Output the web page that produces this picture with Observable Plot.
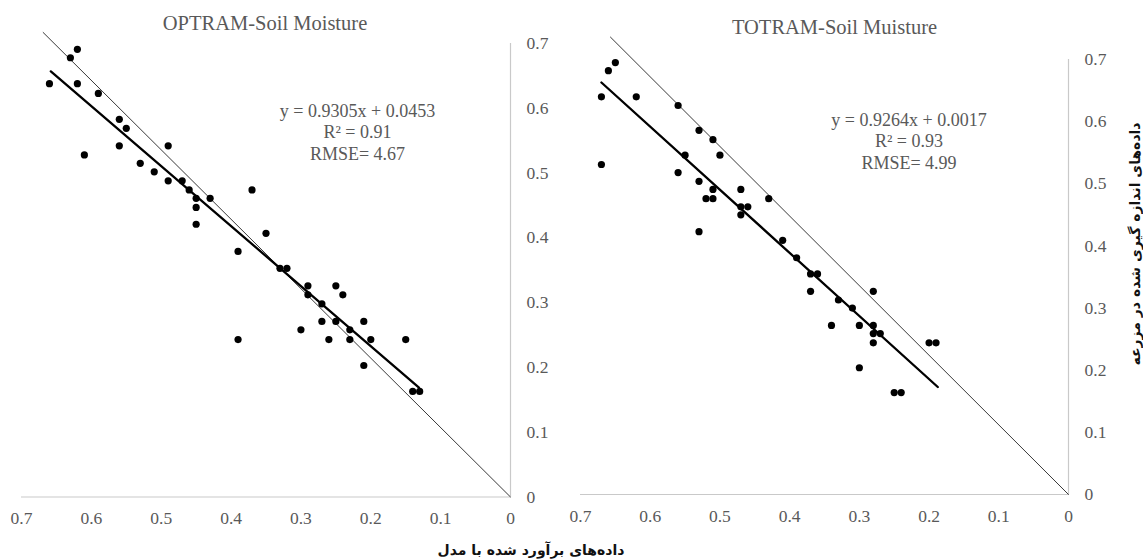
<!DOCTYPE html>
<html>
<head>
<meta charset="utf-8">
<script src="https://cdn.jsdelivr.net/npm/d3@7"></script>
<script src="https://cdn.jsdelivr.net/npm/@observablehq/plot@0.6"></script>
<style>
  html, body { margin: 0; padding: 0; background: #fff; }
  #wrap { position: relative; width: 1143px; height: 560px; overflow: hidden; background: #fff; }
  .panel { position: absolute; top: 0; }
  .panel text { font-family: "Liberation Serif", "Times New Roman", serif; }
  .fa { position: absolute; font-family: "DejaVu Sans", sans-serif; font-weight: bold; color: #111; white-space: nowrap; direction: rtl; }
</style>
</head>
<body>
<div id="wrap"></div>
<script>
// ---- data ----
const axisTicks = [0, 0.1, 0.2, 0.3, 0.4, 0.5, 0.6, 0.7];

const titles = ["OPTRAM-Soil Moisture", "TOTRAM-Soil Muisture"];
const eq1 = ["y = 0.9305x + 0.0453", "R² = 0.91", "RMSE= 4.67"];
const eq2 = ["y = 0.9264x + 0.0017", "R² = 0.93", "RMSE= 4.99"];
const xLabel = "داده‌های برآورد شده با مدل";
const yLabel = "داده‌های اندازه گیری شده در مزرعه";

// OPTRAM: estimated (x) vs measured (y)
const optX = [0.66,0.63,0.62,0.62,0.59,0.61,0.56,0.55,0.56,0.49,0.53,0.51,0.49,0.47,0.46,0.45,0.43,0.45,0.45,0.37,0.35,0.39,0.33,0.32,
              0.29,0.25,0.29,0.24,0.27,0.27,0.25,0.21,0.30,0.23,0.39,0.26,0.23,0.20,0.15,0.21,0.14,0.13];
const optY = [0.638,0.678,0.691,0.638,0.623,0.528,0.583,0.569,0.542,0.542,0.515,0.502,0.488,0.488,0.474,0.461,0.461,0.447,0.421,0.474,0.407,0.379,0.353,0.353,
              0.326,0.326,0.312,0.312,0.298,0.271,0.271,0.271,0.258,0.258,0.243,0.243,0.243,0.243,0.243,0.203,0.163,0.163];
const optTrendX = [0.658, 0.131];
const optTrendY = [0.657, 0.169];
const optRefX = [0, 0.669];
const optRefY = [0, 0.717];

// TOTRAM
const totX = [0.67,0.66,0.65,0.62,0.67,0.56,0.53,0.51,0.55,0.50,0.56,0.53,0.51,0.47,0.52,0.51,0.43,0.47,0.46,0.47,0.53,0.41,0.39,0.37,0.36,
              0.37,0.28,0.33,0.31,0.34,0.30,0.28,0.28,0.27,0.28,0.20,0.19,0.30,0.25,0.24];
const totY = [0.640,0.682,0.695,0.640,0.531,0.626,0.586,0.571,0.546,0.546,0.518,0.504,0.491,0.491,0.476,0.476,0.476,0.463,0.463,0.450,0.423,0.409,0.381,0.355,0.355,
              0.327,0.327,0.313,0.300,0.272,0.272,0.272,0.259,0.259,0.244,0.244,0.244,0.204,0.164,0.164];
const totTrendX = [0.670, 0.1875];
const totTrendY = [0.663, 0.173];
const totRefX = [0, 0.657];
const totRefY = [0, 0.736];

// ---- drawing ----
const zip = (xs, ys) => xs.map((x, i) => ({x, y: ys[i]}));
const fmt = d => d === 0 ? "0" : d.toFixed(1);
const gray = "#595959";
const axisGray = "#c9c9c9";
const serif = "Liberation Serif";

function panel(o) {
  return Plot.plot({
    width: o.width, height: 530,
    marginLeft: o.ml, marginRight: o.mr, marginTop: o.mt, marginBottom: o.mb,
    x: {domain: [0, 0.7], reverse: true},
    y: {domain: [0, 0.7]},
    style: {fontFamily: serif, fontSize: "17px", color: gray, background: "transparent"},
    marks: [
      Plot.ruleY([0], {stroke: axisGray, strokeWidth: 1.2}),
      Plot.ruleX([0], {stroke: axisGray, strokeWidth: 1.2}),
      Plot.axisX({ticks: axisTicks, tickSize: 0, tickPadding: 15, tickFormat: fmt, fill: gray, fontSize: 17.5, fontFamily: serif, fontVariant: "normal", label: null}),
      Plot.axisY({anchor: "right", ticks: axisTicks, tickSize: 0, tickPadding: 16, tickFormat: fmt, fill: gray, fontSize: 17.5, fontFamily: serif, fontVariant: "normal", textAnchor: "start", label: null}),
      Plot.line(zip(o.refX, o.refY), {x: "x", y: "y", stroke: "#222", strokeWidth: 0.9}),
      Plot.line(zip(o.trendX, o.trendY), {x: "x", y: "y", stroke: "#000", strokeWidth: 2.3}),
      Plot.dot(zip(o.xs, o.ys), {x: "x", y: "y", r: 3.6, fill: "#000", stroke: "none"}),
      Plot.text([o.title], {frameAnchor: "top", dx: o.tdx, dy: o.tdy, fontSize: 20.5, fontFamily: serif, fill: gray, lineAnchor: "middle"}),
      ...o.eq.map((t, i) => Plot.text([t], {frameAnchor: "top-left", dx: o.edx, dy: o.edy + i * o.elh, textAnchor: "middle", lineAnchor: "middle", fontSize: 18, fontFamily: serif, fill: gray}))
    ]
  });
}

const wrap = document.getElementById("wrap");

const p1 = panel({width: 560, ml: 21, mr: 50, mt: 43, mb: 33.5,
  xs: optX, ys: optY, trendX: optTrendX, trendY: optTrendY, refX: optRefX, refY: optRefY,
  title: titles[0], tdx: -1, tdy: -20.5, eq: eq1, edx: 336, edy: 67.7, elh: 21.3});
p1.classList.add("panel"); p1.style.left = "0px";
wrap.appendChild(p1);

const p2 = panel({width: 583, ml: 20, mr: 75, mt: 59, mb: 36,
  xs: totX, ys: totY, trendX: totTrendX, trendY: totTrendY, refX: totRefX, refY: totRefY,
  title: titles[1], tdx: 10, tdy: -32.3, eq: eq2, edx: 328.5, edy: 61, elh: 21.2});
p2.classList.add("panel"); p2.style.left = "560px";
wrap.appendChild(p2);

const xl = document.createElement("div");
xl.className = "fa";
xl.textContent = xLabel;
xl.style.fontSize = "14px";
xl.style.left = "531px"; xl.style.top = "550px";
xl.style.transform = "translate(-50%, -50%)";
wrap.appendChild(xl);

const yl = document.createElement("div");
yl.className = "fa";
yl.textContent = yLabel;
yl.style.fontSize = "14px";
yl.style.left = "1135px"; yl.style.top = "244px";
yl.style.transform = "translate(-50%, -50%) rotate(-90deg)";
wrap.appendChild(yl);
</script>
</body>
</html>
